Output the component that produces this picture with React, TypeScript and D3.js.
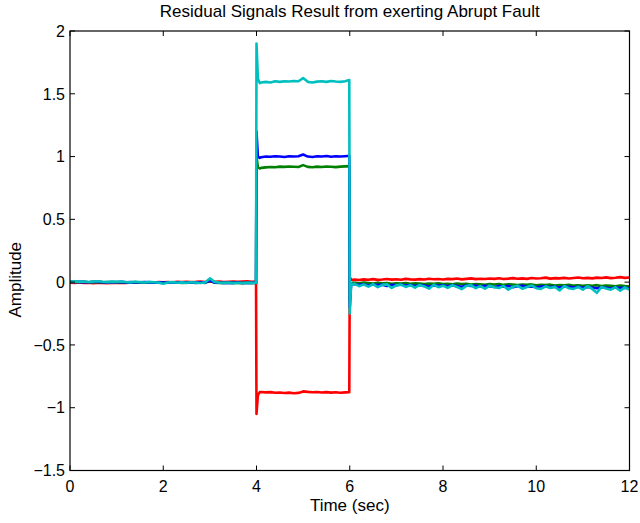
import React from "react";
import * as d3 from "d3";

// ---- data ----
const TITLE = "Residual Signals Result from exerting Abrupt Fault";
const X_LABEL = "Time (sec)";
const Y_LABEL = "Amplitude";
const X_TICKS = [0, 2, 4, 6, 8, 10, 12];
const Y_TICKS = [-1.5, -1, -0.5, 0, 0.5, 1, 1.5, 2];
const Y_TICK_LABELS = ["\u22121.5", "\u22121", "\u22120.5", "0", "0.5", "1", "1.5", "2"];

const timePre = [...d3.range(0, 3.95, 0.1), 3.99];
const timeFault = [4.0, 4.03, 4.07, ...d3.range(4.1, 5.95, 0.1), 5.99];
const timePost = [6.0, 6.03, 6.07, ...d3.range(6.1, 12.05, 0.1)];
const time = [...timePre, ...timeFault, ...timePost];

const redValues = [
  -0.004, -0.006, -0.003, -0.007, -0.005, -0.008, -0.004, -0.006, -0.009, -0.005,
  -0.007, -0.004, -0.006, -0.003, -0.005, -0.002, -0.004, -0.001, -0.003, 0.0,
  -0.002, 0.001, -0.001, 0.002, 0.0, 0.003, 0.001, 0.002, 0.004, 0.001,
  0.006, 0.002, 0.004, 0.001, 0.003, 0.005, 0.002, 0.004, 0.006, 0.003,
  0.005,
  -1.05, -0.9, -0.876,
  -0.875, -0.878, -0.876, -0.881, -0.879, -0.883, -0.88, -0.885, -0.882, -0.87,
  -0.874, -0.877, -0.875, -0.879, -0.876, -0.88, -0.877, -0.881, -0.878,
  -0.876,
  0.04, 0.02, 0.018,
  0.02, 0.017, 0.022, 0.019, 0.024, 0.018, 0.021, 0.025, 0.02, 0.023,
  0.019, 0.026, 0.022, 0.02, 0.024, 0.021, 0.027, 0.023, 0.025, 0.021,
  0.026, 0.024, 0.029, 0.022, 0.026, 0.03, 0.024, 0.027, 0.025, 0.029,
  0.026, 0.031, 0.025, 0.028, 0.032, 0.027, 0.03, 0.026, 0.033, 0.029,
  0.031, 0.036, 0.028, 0.032, 0.03, 0.034, 0.029, 0.033, 0.037, 0.031,
  0.034, 0.03, 0.036, 0.033, 0.038, 0.032, 0.035, 0.04, 0.034, 0.037,
];

const greenValues = [
  0.002, 0.0, 0.003, 0.001, -0.001, 0.002, 0.0, -0.002, 0.001, -0.001,
  0.0, -0.003, -0.001, -0.002, 0.0, -0.003, -0.001, -0.004, -0.002, -0.003,
  -0.005, -0.002, -0.004, -0.003, -0.006, -0.004, -0.002, -0.005, -0.003, -0.006,
  0.01, -0.004, -0.006, -0.005, -0.007, -0.004, -0.006, -0.008, -0.005, -0.007,
  -0.006,
  1.0, 0.915, 0.905,
  0.91, 0.914, 0.917, 0.915, 0.92, 0.918, 0.921, 0.919, 0.917, 0.932,
  0.918, 0.915, 0.92, 0.917, 0.921, 0.919, 0.916, 0.92, 0.922,
  0.924,
  -0.15, -0.01, -0.005,
  -0.006, -0.01, -0.004, -0.008, -0.012, -0.006, -0.01, -0.007, -0.013, -0.009,
  -0.011, -0.008, -0.014, -0.01, -0.012, -0.016, -0.011, -0.014, -0.01, -0.015,
  -0.013, -0.018, -0.012, -0.016, -0.014, -0.019, -0.015, -0.017, -0.021, -0.016,
  -0.019, -0.015, -0.022, -0.018, -0.02, -0.024, -0.019, -0.022, -0.018, -0.025,
  -0.021, -0.024, -0.02, -0.027, -0.023, -0.026, -0.022, -0.028, -0.025, -0.03,
  -0.026, -0.029, -0.024, -0.031, -0.027, -0.03, -0.033, -0.028, -0.032, -0.035,
];

const blueValues = [
  0.001, 0.003, 0.0, 0.002, -0.001, 0.001, 0.003, 0.0, -0.002, 0.001,
  -0.001, 0.002, -0.002, 0.0, -0.003, -0.001, 0.001, -0.002, -0.004, -0.001,
  -0.003, -0.005, -0.002, -0.004, -0.001, -0.005, -0.003, -0.006, -0.002, -0.004,
  0.012, -0.003, -0.005, -0.007, -0.004, -0.006, -0.003, -0.007, -0.005, -0.006,
  -0.004,
  1.2, 1.0, 0.99,
  0.995, 1.0, 0.998, 1.003, 1.0, 0.997, 1.003, 1.0, 1.002, 1.016,
  1.0, 0.997, 1.002, 1.0, 1.004, 0.998, 1.002, 1.0, 1.003,
  1.006,
  -0.2, -0.012, -0.018,
  -0.015, -0.022, -0.017, -0.026, -0.019, -0.024, -0.02, -0.03, -0.021, -0.025,
  -0.019, -0.028, -0.023, -0.031, -0.022, -0.027, -0.034, -0.024, -0.029, -0.025,
  -0.032, -0.026, -0.03, -0.037, -0.027, -0.031, -0.028, -0.035, -0.029, -0.033,
  -0.038, -0.03, -0.036, -0.031, -0.04, -0.033, -0.029, -0.037, -0.034, -0.041,
  -0.035, -0.032, -0.039, -0.036, -0.043, -0.034, -0.038, -0.042, -0.036, -0.045,
  -0.039, -0.043, -0.048, -0.04, -0.044, -0.05, -0.042, -0.047, -0.044, -0.05,
];

const cyanValues = [
  0.004, 0.006, 0.002, 0.005, 0.001, 0.004, 0.007, 0.003, 0.0, 0.004,
  0.002, 0.005, 0.001, -0.002, 0.003, 0.0, -0.003, 0.002, -0.001, -0.004,
  -0.012, -0.003, 0.0, -0.005, -0.002, -0.006, -0.001, -0.004, -0.007, -0.002,
  0.03, 0.002, -0.004, -0.006, -0.003, -0.008, -0.005, -0.007, -0.004, -0.006,
  -0.005,
  1.9, 1.62, 1.585,
  1.59, 1.595, 1.59, 1.6, 1.595, 1.6, 1.598, 1.602, 1.6, 1.625,
  1.595, 1.59, 1.597, 1.6, 1.595, 1.602, 1.598, 1.595, 1.6,
  1.61,
  -0.25, -0.01, -0.02,
  -0.012, -0.032, -0.018, -0.036, -0.016, -0.04, -0.022, -0.018, -0.046, -0.026,
  -0.02, -0.038, -0.024, -0.044, -0.022, -0.034, -0.052, -0.02, -0.04, -0.028,
  -0.046, -0.024, -0.038, -0.056, -0.03, -0.024, -0.048, -0.032, -0.052, -0.028,
  -0.04, -0.047, -0.03, -0.06, -0.036, -0.028, -0.052, -0.038, -0.026, -0.048,
  -0.054, -0.033, -0.047, -0.036, -0.066, -0.031, -0.048, -0.054, -0.038, -0.06,
  -0.032, -0.054, -0.085, -0.038, -0.05, -0.06, -0.04, -0.068, -0.042, -0.06,
];

const SERIES = [
  { name: "r1", color: "#ff0000", values: redValues },
  { name: "r2", color: "#008000", values: greenValues },
  { name: "r3", color: "#0000ff", values: blueValues },
  { name: "r4", color: "#00bfbf", values: cyanValues },
];

// ---- layout ----
const W = 640;
const H = 523;
const L = 70;
const R = 629.5;
const T = 31;
const B = 470.5;
const FONT = "'Liberation Sans', Arial, Helvetica, sans-serif";

export default function App() {
  const x = d3.scaleLinear().domain([0, 12]).range([L, R]);
  const y = d3.scaleLinear().domain([-1.5, 2]).range([B, T]);
  const line = d3
    .line<number>()
    .x((_, i) => x(time[i]))
    .y((d) => y(d));
  const tickLen = 5;

  return (
    <svg
      width={W}
      height={H}
      viewBox={`0 0 ${W} ${H}`}
      style={{ position: "absolute", left: 0, top: 0, background: "#fff" }}
    >
      <rect x={0} y={0} width={W} height={H} fill="#fff" />
      <defs>
        <clipPath id="plotclip">
          <rect x={L} y={T} width={R - L} height={B - T} />
        </clipPath>
      </defs>
      <g clipPath="url(#plotclip)">
        {SERIES.map((s) => (
          <path
            key={s.name}
            d={line(s.values) || ""}
            fill="none"
            stroke={s.color}
            strokeWidth={2.6}
            strokeLinejoin="round"
          />
        ))}
      </g>
      {/* box */}
      <rect x={L} y={T} width={R - L} height={B - T} fill="none" stroke="#000" strokeWidth={1.2} />
      {/* x ticks */}
      {X_TICKS.map((t) => (
        <g key={"xt" + t}>
          <line x1={x(t)} x2={x(t)} y1={B} y2={B - tickLen} stroke="#000" strokeWidth={1} />
          <line x1={x(t)} x2={x(t)} y1={T} y2={T + tickLen} stroke="#000" strokeWidth={1} />
          <text
            x={x(t)}
            y={491.5}
            textAnchor="middle"
            fontFamily={FONT}
            fontSize={16}
            fill="#000"
          >
            {String(t)}
          </text>
        </g>
      ))}
      {/* y ticks */}
      {Y_TICKS.map((t, i) => (
        <g key={"yt" + t}>
          <line x1={L} x2={L + tickLen} y1={y(t)} y2={y(t)} stroke="#000" strokeWidth={1} />
          <line x1={R} x2={R - tickLen} y1={y(t)} y2={y(t)} stroke="#000" strokeWidth={1} />
          <text
            x={65}
            y={y(t)}
            dy="0.36em"
            textAnchor="end"
            fontFamily={FONT}
            fontSize={16}
            fill="#000"
          >
            {Y_TICK_LABELS[i]}
          </text>
        </g>
      ))}
      <text
        x={(L + R) / 2}
        y={17}
        textAnchor="middle"
        fontFamily={FONT}
        fontSize={17}
        fill="#000"
      >
        {TITLE}
      </text>
      <text
        x={(L + R) / 2}
        y={510.5}
        textAnchor="middle"
        fontFamily={FONT}
        fontSize={17}
        fill="#000"
      >
        {X_LABEL}
      </text>
      <text
        transform={`translate(20.5, ${(T + B) / 2 + 29}) rotate(-90)`}
        textAnchor="middle"
        fontFamily={FONT}
        fontSize={17}
        fill="#000"
      >
        {Y_LABEL}
      </text>
    </svg>
  );
}
